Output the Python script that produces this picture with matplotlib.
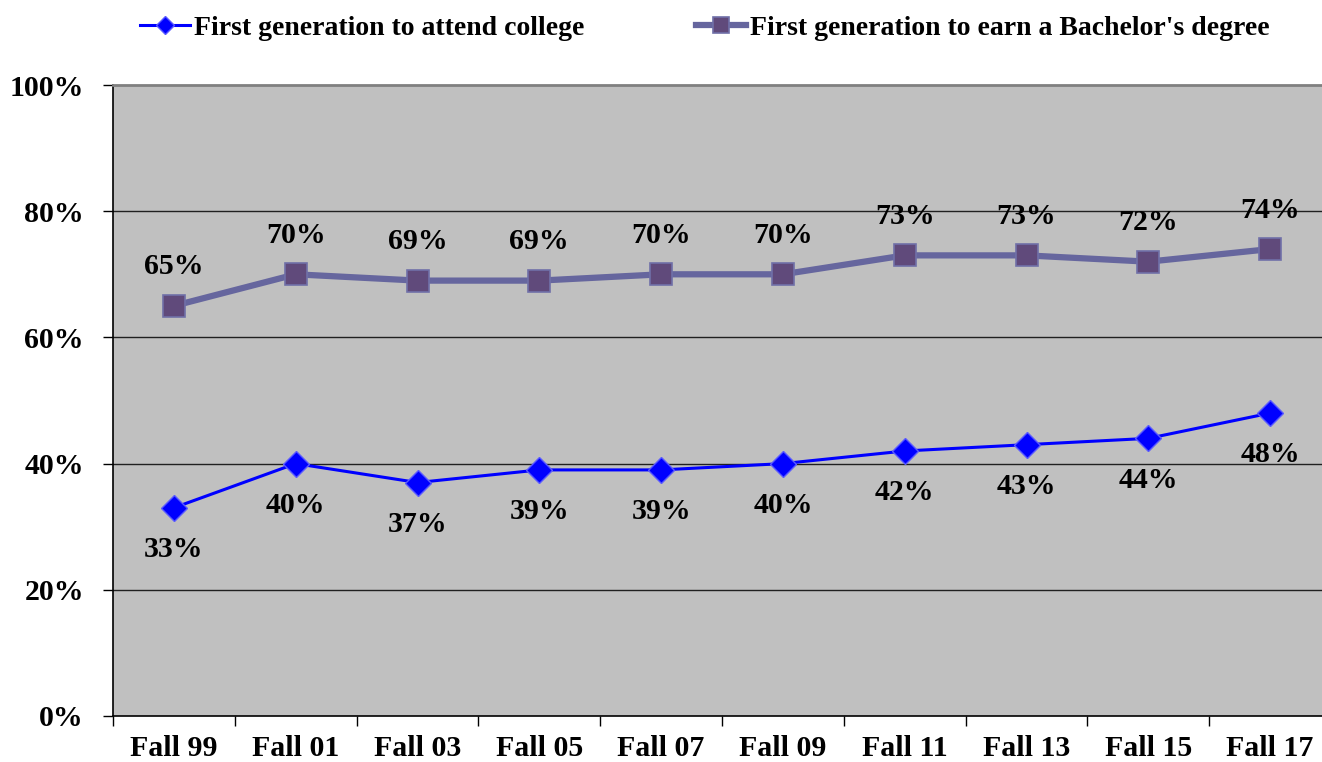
import matplotlib
matplotlib.use("Agg")
import matplotlib.pyplot as plt
import numpy as np

# ---- data ----
terms = ["Fall 99", "Fall 01", "Fall 03", "Fall 05", "Fall 07",
         "Fall 09", "Fall 11", "Fall 13", "Fall 15", "Fall 17"]
attend = [33, 40, 37, 39, 39, 40, 42, 43, 44, 48]
bachelor = [65, 70, 69, 69, 70, 70, 73, 73, 72, 74]
yticks = [0, 20, 40, 60, 80, 100]

plt.rcParams["font.family"] = ["Liberation Serif", "DejaVu Serif"]
plt.rcParams["font.weight"] = "bold"
FS = 21.5

fig = plt.figure(figsize=(13.22, 7.62), dpi=100)
ax = fig.add_axes([113 / 1322, 1 - 716 / 762, 1218 / 1322, 631 / 762])
ax.set_facecolor("#C0C0C0")

x = np.arange(len(terms))
l2, = ax.plot(x, bachelor, color="#66669E", lw=4.5, marker="s", ms=16,
              mfc="#604A7B", mec="#7070A8", mew=1.2, zorder=3,
              label="First generation to earn a Bachelor's degree")
l1, = ax.plot(x, attend, color="#0000FF", lw=2.2, marker="D", ms=13.5,
              mfc="#0000FF", mec="#5A5AFF", mew=1.0, zorder=4,
              label="First generation to attend college")

for xi, v in zip(x, bachelor):
    ax.annotate(f"{v}%", (xi, v), xytext=(0, 28), textcoords="offset points",
                ha="center", va="center", fontsize=FS, fontweight="bold")
for xi, v in zip(x, attend):
    ax.annotate(f"{v}%", (xi, v), xytext=(0, -30), textcoords="offset points",
                ha="center", va="center", fontsize=FS, fontweight="bold")

ax.set_ylim(0, 100)
ax.set_xlim(-0.5, len(terms) - 0.5)
ax.set_yticks(yticks)
ax.set_yticklabels([f"{t}%" for t in yticks], fontsize=FS, fontweight="bold")
ax.tick_params(axis="y", direction="out", length=7, width=1, pad=14)

# category boundaries carry the tick marks, labels sit at centres
ax.set_xticks(np.arange(-0.5, len(terms), 1.0))
ax.set_xticklabels([])
ax.set_xticks(x, minor=True)
ax.set_xticklabels(terms, minor=True, fontsize=FS, fontweight="bold")
ax.tick_params(axis="x", which="major", direction="out", length=7, width=1)
ax.tick_params(axis="x", which="minor", length=0, pad=14)

for g in yticks[1:-1]:
    ax.axhline(g, color="#202020", lw=1, zorder=1)
ax.spines["top"].set_color("#808080")
ax.spines["top"].set_linewidth(2)
ax.spines["right"].set_visible(False)
ax.spines["left"].set_color("black")
ax.spines["bottom"].set_color("black")
ax.spines["left"].set_linewidth(1.2)
ax.spines["bottom"].set_linewidth(1.2)

fig.legend(handles=[l1, l2], loc="center", bbox_to_anchor=(705 / 1322, 1 - 28 / 762),
           ncol=2, frameon=False, handlelength=1.8,
           handletextpad=0.15, columnspacing=4.0, markerscale=0.7,
           prop={"weight": "bold", "size": 20})

fig.savefig("out.png", dpi=100)
